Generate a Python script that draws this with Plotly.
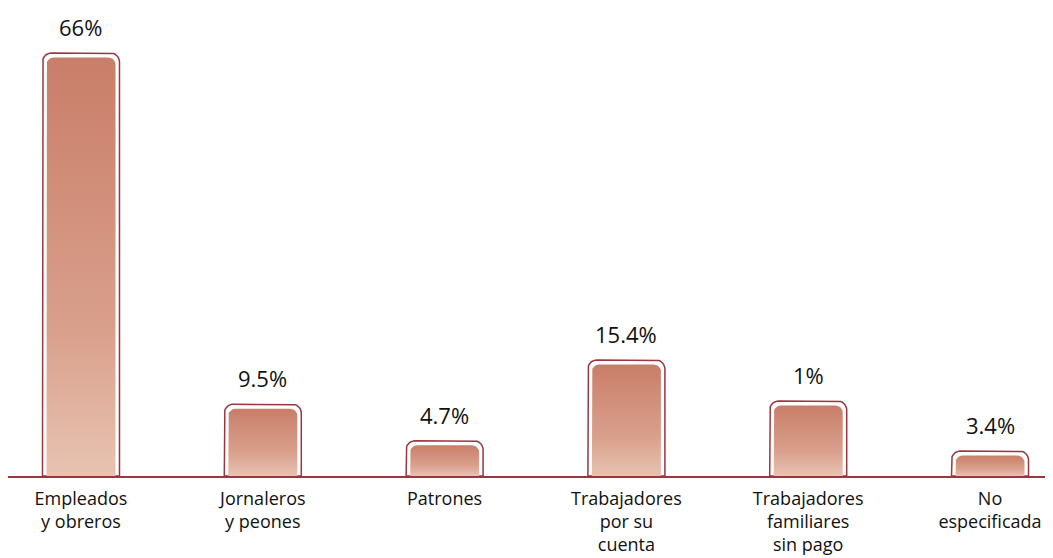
import numpy as np
import plotly.graph_objects as go

categories = ["Empleados<br>y obreros", "Jornaleros<br>y peones", "Patrones",
              "Trabajadores<br>por su<br>cuenta", "Trabajadores<br>familiares<br>sin pago",
              "No<br>especificada"]
bar_values = [66, 11.2, 5.5, 18.1, 11.7, 3.9]
value_labels = ["66%", "9.5%", "4.7%", "15.4%", "1%", "3.4%"]

# the page adds an 8px body margin; figure sized to fit the 1053x558 window
W, H = 1045, 550
ml, mr, mt, mb = 0, 0, 0, 82
pw, ph = W - ml - mr, H - mt - mb
x_range = [-0.4015, 5.3465]
y_range = [0, 73.02]
xu = (x_range[1] - x_range[0]) / pw   # data units per px
yu = (y_range[1] - y_range[0]) / ph

OUTLINE = "#9B3540"
DARK = "#C97E69"
LIGHT = "#E8C3B2"
FONT = "Open Sans"


def rounded_top(xc, w_px, top_val, r_px, n=10):
    hw = w_px / 2 * xu
    rx, ry = r_px * xu, r_px * yu
    xs, ys = [xc - hw], [0]
    t = np.linspace(np.pi, np.pi / 2, n)
    cx, cy = xc - hw + rx, top_val - ry
    xs += list(cx + rx * np.cos(t)); ys += list(cy + ry * np.sin(t))
    t = np.linspace(np.pi / 2, 0, n)
    cx = xc + hw - rx
    xs += list(cx + rx * np.cos(t)); ys += list(cy + ry * np.sin(t))
    xs += [xc + hw, xc - hw]; ys += [0, 0]
    return xs, ys


fig = go.Figure()
for i, v in enumerate(bar_values):
    xs, ys = rounded_top(i, 77, v, 9)
    fig.add_trace(go.Scatter(x=xs, y=ys, mode="lines", fill="toself", fillcolor="white",
                             line=dict(color=OUTLINE, width=1.5), hoverinfo="skip",
                             showlegend=False))
    xs, ys = rounded_top(i, 69, v - 4.5 * yu, 7)
    fig.add_trace(go.Scatter(x=xs, y=ys, mode="lines", fill="toself",
                             fillgradient=dict(type="vertical",
                                               colorscale=[[0, LIGHT], [0.35, "#D9A08C"], [1, DARK]]),
                             line=dict(width=0), hoverinfo="skip", showlegend=False))
    fig.add_annotation(x=i, y=v, text=value_labels[i], showarrow=False, yanchor="middle",
                       yshift=26, font=dict(family=FONT, size=22, color="#111111"))

fig.update_layout(
    width=W, height=H, margin=dict(l=ml, r=mr, t=mt, b=mb, autoexpand=False),
    paper_bgcolor="white", plot_bgcolor="white",
    xaxis=dict(range=x_range, tickvals=list(range(len(categories))), ticktext=categories,
               showgrid=False, zeroline=False, showline=True, linecolor=OUTLINE, linewidth=2,
               ticks="outside", ticklen=5, tickcolor="rgba(0,0,0,0)", automargin=False,
               tickfont=dict(family=FONT, size=18, color="#111111")),
    yaxis=dict(range=y_range, visible=False, showgrid=False, zeroline=False, automargin=False),
)
fig.write_html("out.html")
